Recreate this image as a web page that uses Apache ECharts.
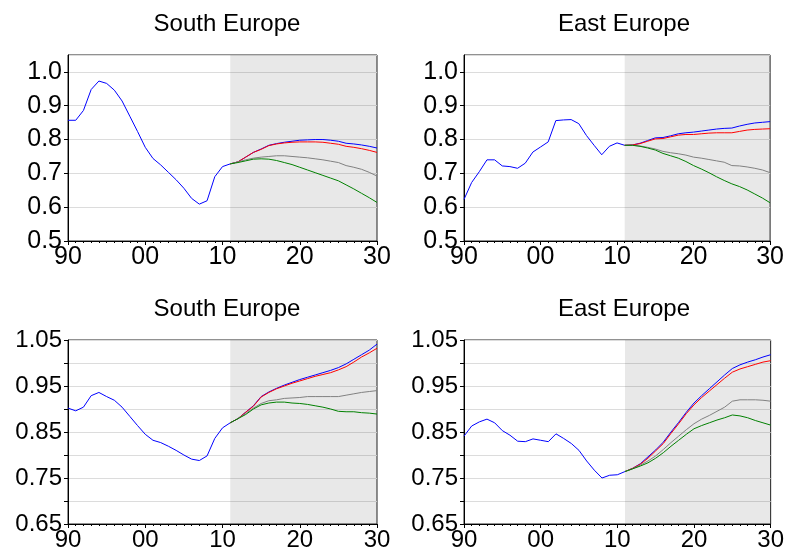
<!DOCTYPE html>
<html><head><meta charset="utf-8">
<script src="https://cdn.jsdelivr.net/npm/echarts@6/dist/echarts.min.js"></script>
<style>html,body{margin:0;padding:0;background:#fff}#c{width:787px;height:552px}</style>
</head><body><div id="c"></div>
<script>
// Years: history 1990..2011, projections 2011..2030
const histStart = 1990, projStart = 2011;
const panelTitles = ["South Europe", "East Europe", "South Europe", "East Europe"];
const xTickLabels = {1990: "90", 2000: "00", 2010: "10", 2020: "20", 2030: "30"};

// Panel 1: South Europe (top)
const p1Hist = [0.857,0.857,0.886,0.948,0.973,0.966,0.946,0.914,0.869,0.824,0.777,0.744,0.725,0.703,0.681,0.656,0.626,0.609,0.619,0.690,0.720,0.728];
const p1Blue = [0.728,0.734,0.748,0.762,0.772,0.783,0.788,0.792,0.795,0.798,0.799,0.800,0.800,0.798,0.795,0.789,0.787,0.784,0.780,0.775];
const p1Red  = [0.728,0.734,0.748,0.762,0.771,0.782,0.787,0.790,0.792,0.793,0.793,0.793,0.792,0.789,0.786,0.780,0.777,0.773,0.768,0.762];
const p1Gray = [0.728,0.734,0.740,0.745,0.748,0.750,0.752,0.752,0.750,0.748,0.746,0.743,0.740,0.736,0.732,0.723,0.718,0.712,0.703,0.692];
const p1Green= [0.728,0.732,0.737,0.742,0.743,0.742,0.738,0.732,0.726,0.718,0.710,0.702,0.694,0.686,0.678,0.666,0.654,0.641,0.628,0.614];

// Panel 2: East Europe (top)
const p2Hist = [0.623,0.673,0.705,0.740,0.740,0.722,0.720,0.715,0.730,0.763,0.778,0.793,0.856,0.858,0.859,0.847,0.812,0.783,0.755,0.780,0.790,0.783];
const p2Blue = [0.783,0.784,0.789,0.797,0.805,0.806,0.811,0.817,0.820,0.822,0.825,0.828,0.831,0.833,0.834,0.840,0.845,0.849,0.851,0.853];
const p2Red  = [0.783,0.784,0.788,0.795,0.802,0.803,0.808,0.813,0.815,0.815,0.817,0.819,0.820,0.820,0.820,0.824,0.828,0.830,0.831,0.832];
const p2Gray = [0.783,0.783,0.781,0.777,0.772,0.765,0.761,0.758,0.754,0.748,0.745,0.741,0.737,0.733,0.723,0.722,0.719,0.715,0.710,0.702];
const p2Green= [0.783,0.783,0.780,0.775,0.769,0.759,0.752,0.745,0.735,0.723,0.713,0.702,0.690,0.679,0.669,0.661,0.651,0.639,0.627,0.613];

// Panel 3: South Europe (bottom)
const p3Hist = [0.902,0.896,0.904,0.929,0.936,0.927,0.919,0.904,0.884,0.864,0.845,0.832,0.827,0.819,0.810,0.800,0.791,0.788,0.798,0.836,0.859,0.870];
const p3Blue = [0.870,0.879,0.893,0.907,0.927,0.937,0.945,0.952,0.958,0.964,0.969,0.974,0.979,0.984,0.990,0.998,1.008,1.018,1.028,1.041];
const p3Red  = [0.870,0.879,0.893,0.906,0.926,0.936,0.944,0.950,0.956,0.961,0.966,0.971,0.975,0.979,0.985,0.992,1.002,1.013,1.022,1.032];
const p3Gray = [0.870,0.879,0.890,0.902,0.912,0.918,0.920,0.923,0.924,0.925,0.927,0.927,0.927,0.927,0.927,0.930,0.933,0.936,0.938,0.940];
const p3Green= [0.870,0.879,0.888,0.900,0.909,0.913,0.915,0.915,0.913,0.912,0.910,0.907,0.904,0.900,0.895,0.894,0.894,0.892,0.891,0.889];

// Panel 4: East Europe (bottom)
const p4Hist = [0.841,0.863,0.872,0.878,0.870,0.853,0.843,0.830,0.829,0.835,0.832,0.829,0.846,0.836,0.825,0.810,0.787,0.767,0.750,0.756,0.757,0.764];
const p4Blue = [0.764,0.771,0.781,0.796,0.811,0.828,0.850,0.871,0.893,0.913,0.929,0.944,0.959,0.974,0.988,0.996,1.002,1.007,1.013,1.018];
const p4Red  = [0.764,0.771,0.780,0.793,0.809,0.825,0.847,0.868,0.890,0.909,0.925,0.939,0.953,0.967,0.980,0.987,0.992,0.997,1.002,1.005];
const p4Gray = [0.764,0.770,0.778,0.787,0.798,0.812,0.827,0.841,0.855,0.868,0.878,0.886,0.895,0.904,0.917,0.920,0.920,0.920,0.919,0.917];
const p4Green= [0.764,0.770,0.776,0.783,0.793,0.805,0.819,0.832,0.845,0.857,0.864,0.870,0.876,0.881,0.887,0.885,0.881,0.875,0.870,0.865];

const panels = [
  {hist:p1Hist, blue:p1Blue, red:p1Red, gray:p1Gray, green:p1Green, min:0.5, max:1.05, step:0.1},
  {hist:p2Hist, blue:p2Blue, red:p2Red, gray:p2Gray, green:p2Green, min:0.5, max:1.05, step:0.1},
  {hist:p3Hist, blue:p3Blue, red:p3Red, gray:p3Gray, green:p3Green, min:0.65, max:1.05, step:0.05},
  {hist:p4Hist, blue:p4Blue, red:p4Red, gray:p4Gray, green:p4Green, min:0.65, max:1.05, step:0.05}
];

const gridPos = [
  {left:68, top:55, width:309, height:186},
  {left:464, top:55, width:310, height:186},
  {left:68, top:340, width:309, height:185},
  {left:464, top:340, width:310, height:185}
];
const titlePos = [{x:222, y:7},{x:619, y:7},{x:222, y:292},{x:619, y:292}];
const yFont = [25, 25, 24, 24];
const xFont = [25, 25, 24, 24];

const FONT = "'Liberation Sans', Arial, sans-serif";
const toPairs = (arr, start) => arr.map((v, i) => [start + i, v]);

const option = {
  animation: false,
  textStyle: {fontFamily: FONT},
  title: panelTitles.map((t, i) => ({
    text: t, left: titlePos[i].x, top: titlePos[i].y, textAlign: 'center',
    textStyle: {fontSize: 24, fontWeight: 'normal', color: '#000', fontFamily: FONT}
  })),
  grid: gridPos.map(g => Object.assign({show: true, borderColor: '#222', borderWidth: 1, backgroundColor: 'transparent'}, g)),
  xAxis: gridPos.map((g, i) => ({
    type: 'value', gridIndex: i, min: 1990, max: 2030, interval: 10,
    axisLine: {show: true, onZero: false, lineStyle: {color: '#000', width: 1}},
    axisTick: {show: true, length: 4, lineStyle: {color: '#000'}},
    minorTick: {show: true, splitNumber: 10, length: 2, lineStyle: {color: '#000'}},
    splitLine: {show: false},
    axisLabel: {fontSize: xFont[i], color: '#000', margin: 4, fontFamily: FONT,
      formatter: v => xTickLabels[Math.round(v)] || ''}
  })),
  yAxis: panels.map((p, i) => ({
    type: 'value', gridIndex: i, min: p.min, max: p.max, interval: p.step,
    axisLine: {show: true, lineStyle: {color: '#000', width: 1}},
    axisTick: {show: true, length: 4, lineStyle: {color: '#000'}},
    splitLine: {show: true, lineStyle: {color: '#dcdcdc', width: 1}},
    axisLabel: {fontSize: yFont[i], color: '#000', margin: 6, fontFamily: FONT, showMaxLabel: p.step === 0.05,
      formatter: v => {
        if (p.step === 0.1) { return v > 1.01 ? '' : v.toFixed(1); }
        const k = Math.round(v * 100);
        return (k % 10 === 5) ? v.toFixed(2) : '';
      }}
  })),
  series: []
};

panels.forEach((p, i) => {
  const blueAll = toPairs(p.hist, histStart).concat(toPairs(p.blue.slice(1), projStart + 1));
  option.series.push({
    type: 'line', xAxisIndex: i, yAxisIndex: i, data: blueAll, showSymbol: false, symbol: 'none',
    lineStyle: {color: '#0000ff', width: 1}, z: 3,
    markArea: {silent: true, itemStyle: {color: 'rgba(0,0,0,0.09)'},
      data: [[{xAxis: projStart}, {xAxis: 2030}]]}
  });
  [['red', '#ff0000'], ['gray', '#808080'], ['green', '#008000']].forEach(([k, c], j) => {
    option.series.push({
      type: 'line', xAxisIndex: i, yAxisIndex: i, data: toPairs(p[k], projStart),
      showSymbol: false, symbol: 'none', lineStyle: {color: c, width: 1}, z: 4 + j
    });
  });
});

const chart = echarts.init(document.getElementById('c'), null, {renderer: 'canvas'});
chart.setOption(option);
</script>
</body></html>
